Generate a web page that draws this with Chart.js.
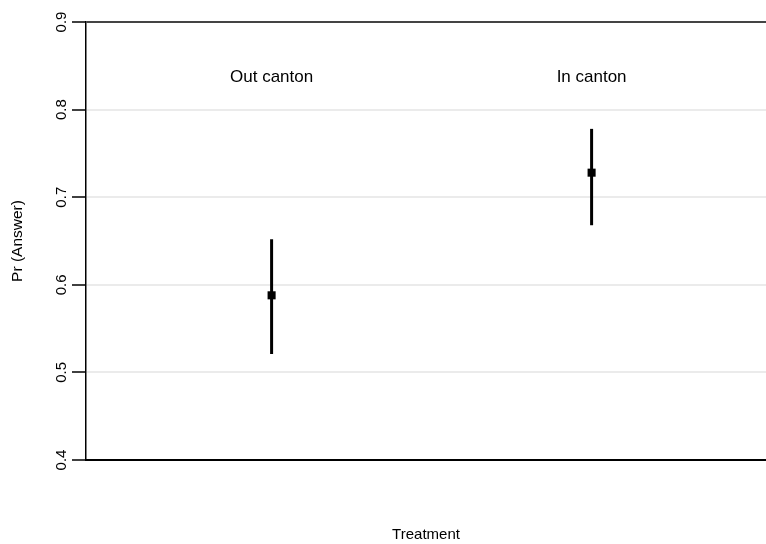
<!DOCTYPE html>
<html>
<head>
<meta charset="utf-8">
<script src="https://cdn.jsdelivr.net/npm/chart.js@4"></script>
<style>
  html, body { margin: 0; padding: 0; background: #fff; overflow: hidden; }
  #wrap { width: 766px; height: 544px; }
</style>
</head>
<body>
<div id="wrap"><canvas id="PrChart"></canvas></div>
<script>
var groups = ["Out canton", "In canton"];
var groupPos = [1, 2];
var estimates = [0.588, 0.728];
var lower = [0.521, 0.668];
var upper = [0.652, 0.778];
var yTicks = [0.4, 0.5, 0.6, 0.7, 0.8, 0.9];

var FONT = "'Liberation Sans', Arial, Helvetica, sans-serif";

var plugins = [{
    // vertical CI lines, drawn under the square markers
    beforeDatasetsDraw: chart => {
        let ctx = chart.ctx;
        let x = chart.scales.x, y = chart.scales.y;
        ctx.save();
        ctx.strokeStyle = '#000';
        ctx.lineWidth = 3;
        groupPos.forEach((p, i) => {
            let px = x.getPixelForValue(p);
            ctx.beginPath();
            ctx.moveTo(px, y.getPixelForValue(lower[i]));
            ctx.lineTo(px, y.getPixelForValue(upper[i]));
            ctx.stroke();
        });
        ctx.restore();
    },
    afterDraw: chart => {
        let ctx = chart.ctx;
        let x = chart.scales.x, y = chart.scales.y;
        ctx.save();
        ctx.fillStyle = '#000';
        ctx.textAlign = 'center';
        ctx.textBaseline = 'middle';
        // group names inside the plot
        ctx.font = '17px ' + FONT;
        groups.forEach((g, i) => {
            ctx.fillText(g, x.getPixelForValue(groupPos[i]), y.getPixelForValue(0.837));
        });
        // rotated y tick labels, centred on their ticks
        ctx.font = '15px ' + FONT;
        yTicks.forEach(v => {
            ctx.save();
            ctx.translate(y.left + 62, y.getPixelForValue(v));
            ctx.rotate(-Math.PI / 2);
            ctx.fillText(v.toFixed(1), 0, 0);
            ctx.restore();
        });
        // y title
        ctx.font = '15.5px ' + FONT;
        ctx.save();
        ctx.translate(18, (y.top + y.bottom) / 2);
        ctx.rotate(-Math.PI / 2);
        ctx.fillText('Pr (Answer)', 0, 0);
        ctx.restore();
        ctx.restore();
    }
}];

var options = {
    responsive: true,
    maintainAspectRatio: false,
    animation: false,
    layout: {autoPadding: false, padding: {top: 22, right: 0, left: 0, bottom: 0}},
    plugins: {legend: {display: false}, tooltip: {enabled: false}},
    scales: {
        x: {
            type: 'linear',
            min: 0.42,
            max: 2.545,
            afterFit: s => { s.height = 84; },
            ticks: {display: false},
            grid: {display: true, drawOnChartArea: false, drawTicks: false},
            border: {display: true, color: '#000', width: 2},
            title: {
                display: true,
                text: 'Treatment',
                color: '#000',
                font: {family: FONT, size: 15},
                padding: {top: 0, bottom: 0}
            }
        },
        y: {
            type: 'linear',
            min: 0.4,
            max: 0.9,
            afterFit: s => { s.width = 86; },
            afterBuildTicks: s => { s.ticks = yTicks.map(v => ({value: v})); },
            ticks: {display: false},
            grid: {
                color: ctx => ctx.tick && ctx.tick.value === 0.9 ? '#444' : '#ebebeb',
                lineWidth: 2,
                tickColor: '#000',
                tickLength: 14,
                tickWidth: 1.5
            },
            border: {display: true, color: '#000', width: 1.5}
        }
    }
};

new Chart(document.getElementById('PrChart'), {
    type: 'scatter',
    options: options,
    plugins: plugins,
    data: {
        datasets: [{
            data: groupPos.map((p, i) => ({x: p, y: estimates[i]})),
            pointStyle: 'rect',
            pointRadius: 5.7,
            pointBackgroundColor: '#000',
            pointBorderColor: '#000',
            pointBorderWidth: 0
        }]
    }
});
</script>
</body>
</html>
